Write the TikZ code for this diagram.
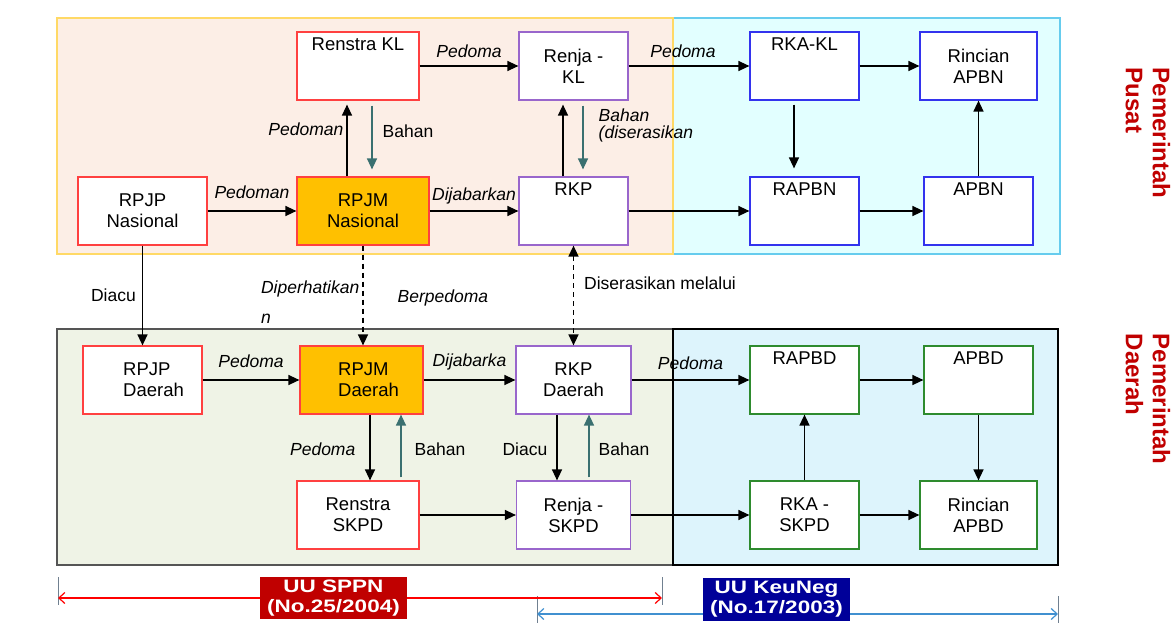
\documentclass[tikz,border=0pt]{standalone}
\usepackage{fontspec}
\setmainfont{Liberation Sans}
\usetikzlibrary{arrows.meta}

\definecolor{pusatbg}{HTML}{FCEEE6}
\definecolor{pusatline}{HTML}{FFD966}
\definecolor{apbnbg}{HTML}{E2FFFF}
\definecolor{apbnline}{HTML}{66CCEE}
\definecolor{daerahbg}{HTML}{EFF3E6}
\definecolor{daerahline}{HTML}{555555}
\definecolor{apbdbg}{HTML}{DDF4FC}
\definecolor{boxred}{HTML}{FF4040}
\definecolor{rpjmfill}{HTML}{FFC000}
\definecolor{boxpurple}{HTML}{9966CC}
\definecolor{boxblue}{HTML}{3333EE}
\definecolor{boxgreen}{HTML}{2E8B2E}
\definecolor{bahanteal}{HTML}{3A7070}
\definecolor{sppnred}{HTML}{C00000}
\definecolor{keunavy}{HTML}{000099}
\definecolor{keuline}{HTML}{4090D0}
\definecolor{tickgray}{HTML}{708090}

\newcommand\lawtext[1]{\scalebox{1.25}[1]{#1}}

\tikzset{
  box/.style={draw, fill=white, line width=1.2pt, minimum width=109pt, minimum height=68pt,
    inner sep=3pt, align=center, font=\fontsize{18.5}{21}\selectfont},
  redbox/.style={box, draw=boxred},
  purplebox/.style={box, draw=boxpurple},
  bluebox/.style={box, draw=boxblue},
  greenbox/.style={box, draw=boxgreen},
  toptext/.style={text depth=44pt},
  lbl/.style={font=\fontsize{17.5}{21}\selectfont\itshape, inner sep=3pt},
  plainlbl/.style={font=\fontsize{17.5}{21}\selectfont, inner sep=3pt},
  bahan/.style={draw=bahanteal},
  gapend/.style={shorten >=4pt},
  lawarrow/.style={<->, >={Straight Barb[length=6pt,width=11pt]}, line width=1.2pt},
  lawbox/.style={text=white, align=center, inner xsep=1pt, inner ysep=3pt, minimum width=147pt,
    font=\fontsize{18}{20}\selectfont\bfseries},
  tick/.style={draw=tickgray, line width=1pt},
  sidelabel/.style={text=sppnred, align=left, inner sep=0pt, rotate=-90, anchor=north west,
    font=\fontsize{24}{27}\selectfont\bfseries}
}

\begin{document}
\begin{tikzpicture}[x=1pt, y=-1pt, >={Triangle[length=11pt,width=10pt]}, line width=1.4pt, node distance=145pt]
  \useasboundingbox (0,0) rectangle (1171,637);
  % regions
  \filldraw[fill=apbnbg, draw=apbnline, line width=1.2pt] (673,18) rectangle (1060,254);
  \filldraw[fill=pusatbg, draw=pusatline, line width=1.2pt] (57,18) rectangle (673,254);
  \filldraw[fill=daerahbg, draw=daerahline, line width=1.2pt] (57,329) rectangle (673,565);
  \filldraw[fill=apbdbg, draw=black, line width=1.2pt] (673,329) rectangle (1058,565);

  % pusat
  \node[redbox, minimum width=129pt] (rpjpnas) at (142.5,211) {RPJP\\Nasional};
  \node[redbox, fill=rpjmfill, minimum width=132pt] (rpjmnas) [right of=rpjpnas, node distance=220.5pt] {RPJM\\Nasional};
  \node[redbox, toptext, minimum width=122pt] (renstrakl) [above of=rpjmnas, xshift=-5pt] {Renstra KL};
  \node[purplebox, toptext] (rkp) [right of=rpjmnas, node distance=210.5pt] {RKP};
  \node[purplebox] (renjakl) [above of=rkp] {Renja -\\KL};
  \node[bluebox, toptext] (rapbn) [right of=rkp, node distance=231pt] {RAPBN};
  \node[bluebox, toptext] (rkakl) [above of=rapbn] {RKA-KL};
  \node[bluebox, toptext] (apbn) [right of=rapbn, node distance=174pt] {APBN};
  \node[bluebox, minimum width=117pt] (rincianapbn) [above of=apbn] {Rincian\\APBN};

  % daerah
  \node[redbox, align=left, minimum width=119pt] (rpjpdaerah) [below of=rpjpnas, node distance=169pt] {\hspace*{22pt}RPJP\\\hspace*{22pt}Daerah};
  \node[redbox, fill=rpjmfill, align=left, minimum width=123pt] (rpjmdaerah) [right of=rpjpdaerah, node distance=219pt] {\hspace*{14pt}RPJM\\\hspace*{14pt}Daerah};
  \node[redbox, minimum width=122pt] (renstraskpd) [below of=rpjmdaerah, node distance=135pt, xshift=-3.5pt] {Renstra\\SKPD};
  \node[purplebox, minimum width=115pt] (rkpdaerah) [right of=rpjmdaerah, node distance=212pt] {RKP\\Daerah};
  \node[purplebox, minimum width=114pt] (renjaskpd) [below of=rkpdaerah, node distance=135pt] {Renja -\\SKPD};
  \node[greenbox, toptext] (rapbd) [right of=rkpdaerah, node distance=231pt] {RAPBD};
  \node[greenbox] (rkaskpd) [below of=rapbd, node distance=135pt] {RKA -\\SKPD};
  \node[greenbox, toptext] (apbd) [right of=rapbd, node distance=174pt] {APBD};
  \node[greenbox, minimum width=117pt] (rincianapbd) [below of=apbd, node distance=135pt] {Rincian\\APBD};

  \node[sidelabel] (pusat) at (1171,67) {Pemerintah\\Pusat};
  \node[sidelabel] (daerah) at (1171,333) {Pemerintah\\Daerah};

  \path[->]
    (rpjpnas) edge node[lbl, above=9pt] {Pedoman} (rpjmnas)
    (renstrakl) edge node[lbl, above=5pt] {Pedoma} (renjakl)
    (renjakl) edge node[lbl, above=5pt, pos=0.45] {Pedoma} (rkakl)
    (rkakl) edge (rincianapbn)
    (rpjmnas) edge node[lbl, above=3pt] {Dijabarkan} (rkp)
    (rkp) edge (rapbn)
    (rapbn) edge (apbn)
    ([xshift=-16pt]rpjmnas.north) edge[gapend] node[lbl, left, pos=0.62] {Pedoman} ([xshift=-11pt]renstrakl.south)
    ([xshift=14pt]renstrakl.south) edge[bahan, shorten <=5pt, shorten >=7pt] node[plainlbl, right=7pt, pos=0.4] {Bahan} ([xshift=9pt]rpjmnas.north)
    ([xshift=-10.5pt]rkp.north) edge[gapend] ([xshift=-10.5pt]renjakl.south)
    ([xshift=9.5pt]renjakl.south) edge[bahan, shorten <=5pt, shorten >=7pt] node[lbl, right=12pt, pos=0.33, align=left, font=\fontsize{17.5}{16.5}\selectfont\itshape] {Bahan\\(diserasikan} ([xshift=9.5pt]rkp.north)
    ([xshift=-10.5pt]rkakl.south) edge[shorten <=4pt, shorten >=8pt] ([xshift=-10.5pt]rapbn.north)
    (apbn.north) edge (apbn.north |- rincianapbn.south)

    (rpjpnas.south) edge node[plainlbl, left=3pt] {Diacu} (rpjpnas.south |- rpjpdaerah.north)
    (rpjmnas.south) edge[dash pattern=on 5pt off 4pt]
      node[lbl, left, align=left, pos=0.57] {Diperhatikan\\[9pt]n}
      node[lbl, right=31pt, pos=0.52] {Berpedoma} (rpjmnas.south |- rpjmdaerah.north)
    (rkp.south) edge[<->, dash pattern=on 5pt off 4pt] node[plainlbl, right=7pt, pos=0.38] {Diserasikan melalui} (rkpdaerah.north)

    (rpjpdaerah) edge node[lbl, above=9pt] {Pedoma} (rpjmdaerah)
    (rpjmdaerah) edge node[lbl, above=6pt] {Dijabarka} (rkpdaerah)
    (rkpdaerah) edge node[lbl, above=7pt] {Pedoma} (rapbd)
    (rapbd) edge (apbd)
    (apbd.south) edge (apbd.south |- rincianapbd.north)
    (rkaskpd.north) edge (rkaskpd.north |- rapbd.south)
    (renstraskpd) edge (renjaskpd)
    (renjaskpd) edge (rkaskpd)
    (rkaskpd) edge (rincianapbd)
    ([xshift=8.5pt]rpjmdaerah.south) edge node[lbl, left=11pt, pos=0.53] {Pedoma} ([xshift=12pt]renstraskpd.north)
    ([xshift=43pt]renstraskpd.north) edge[bahan, shorten <=3pt] node[plainlbl, right=10pt, pos=0.47] {Bahan} ([xshift=39.5pt]rpjmdaerah.south)
    ([xshift=-16.5pt]rkpdaerah.south) edge node[plainlbl, left=6pt, pos=0.53] {Diacu} ([xshift=-16.5pt]renjaskpd.north)
    ([xshift=15.5pt]renjaskpd.north) edge[bahan, shorten <=3pt] node[plainlbl, right=6pt, pos=0.47] {Bahan} ([xshift=15.5pt]rkpdaerah.south)
    ;

  % undang-undang
  \coordinate (sppnL) at (58,598);
  \coordinate (sppnR) at (662,598);
  \coordinate (keuL) at (537,614);
  \coordinate (keuR) at (1058,614);
  \draw[tick] ([yshift=21pt]sppnL) -- ([yshift=-7pt]sppnL);
  \draw[tick] ([yshift=21pt]sppnR) -- ([yshift=-7pt]sppnR);
  \draw[tick] ([yshift=18pt]keuL) -- ([yshift=-9pt]keuL);
  \draw[tick] ([yshift=18pt]keuR) -- ([yshift=-9pt]keuR);
  \draw[lawarrow, red] (sppnL) -- (sppnR);
  \draw[lawarrow, keuline] (keuL) -- (keuR);
  \node[lawbox, fill=sppnred] (sppn) at (333.5,598) {\lawtext{UU SPPN}\\\lawtext{(No.25/2004)}};
  \node[lawbox, fill=keunavy] (keuneg) at (776.5,599.5) {\lawtext{UU KeuNeg}\\\lawtext{(No.17/2003)}};
\end{tikzpicture}
\end{document}
